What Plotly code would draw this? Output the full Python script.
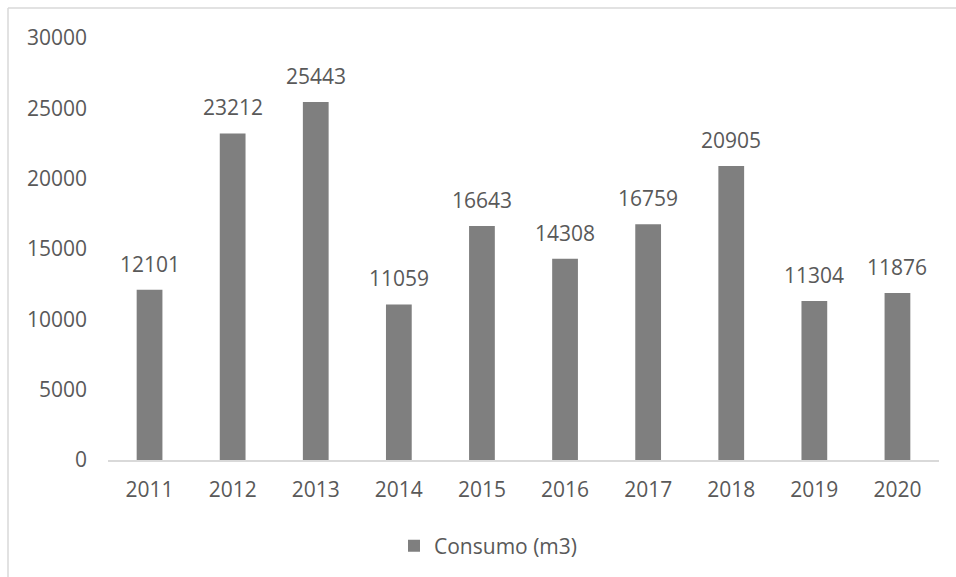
import plotly.graph_objects as go

years = ["2011", "2012", "2013", "2014", "2015", "2016", "2017", "2018", "2019", "2020"]
consumo = [12101, 23212, 25443, 11059, 16643, 14308, 16759, 20905, 11304, 11876]
series_name = "Consumo (m3)"
y_ticks = [0, 5000, 10000, 15000, 20000, 25000, 30000]

FONT = "Open Sans"
FS = 21
TXT = "#595959"
BAR = "#7f7f7f"
LINE = "#d9d9d9"

fig = go.Figure()
fig.add_trace(go.Bar(x=years, y=consumo, name=series_name, marker_color=BAR,
                     marker_line_width=0, showlegend=True, hoverinfo="x+y"))

# data labels (x given as category index on the category axis)
annotations = [
    dict(x=i, y=v, xref="x", yref="y", text=str(v), showarrow=False,
         yanchor="middle", yshift=26, font=dict(family=FONT, size=FS, color=TXT))
    for i, v in enumerate(consumo)
]

# chart-area border (top and left visible)
L, R, T, B = 108, 939, 38, 461
W, H = R - L, B - T
def px(x):
    return (x - L) / W
def py(y):
    return (B - y) / H

shapes = [
    dict(type="line", xref="paper", yref="paper", x0=px(8), x1=px(960), y0=py(8), y1=py(8),
         line=dict(color=LINE, width=1.5)),
    dict(type="line", xref="paper", yref="paper", x0=px(8), x1=px(8), y0=py(8), y1=py(580),
         line=dict(color=LINE, width=1.5)),
]

fig.update_layout(
    width=956, height=577,
    margin=dict(l=L, r=956 - R, t=T, b=577 - B),
    paper_bgcolor="white", plot_bgcolor="white",
    font=dict(family=FONT, size=FS, color=TXT),
    bargap=0.69,
    annotations=annotations,
    shapes=shapes,
    legend=dict(orientation="h", x=px(394), xanchor="left", y=py(546), yanchor="middle",
                font=dict(family=FONT, size=FS, color=TXT), bgcolor="rgba(0,0,0,0)"),
    xaxis=dict(type="category", categoryorder="array", categoryarray=years,
               range=[-0.5, len(years) - 0.5], showgrid=False, showline=True,
               linecolor=LINE, linewidth=2, ticks="", ticklabelstandoff=10,
               tickfont=dict(family=FONT, size=FS, color=TXT), zeroline=False),
    yaxis=dict(range=[0, 30000], tickvals=y_ticks, tickformat="d", showgrid=False,
               showline=False, zeroline=False, ticks="", ticklabelstandoff=20,
               tickfont=dict(family=FONT, size=FS, color=TXT)),
)

fig.write_html("out.html")
